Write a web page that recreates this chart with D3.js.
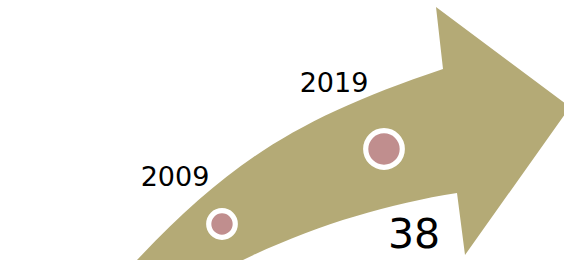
<!DOCTYPE html>
<html>
<head>
<meta charset="utf-8">
<script src="https://cdn.jsdelivr.net/npm/d3@7"></script>
<style>
  html, body { margin: 0; padding: 0; background: #fff; }
  svg { display: block; }
  text { font-family: "DejaVu Sans", sans-serif; fill: #000; }
</style>
</head>
<body>
<svg id="chart" width="564" height="260"></svg>
<script>
// ---- data ----
const years = [2009, 2019];
const yearLabels = ["2009", "2019"];
const values = [20, 38];
const valueLabels = ["", "38"];

// ---- layout (decorative arrow shape, in pixel space) ----
const W = 564, H = 260;
const svg = d3.select("#chart");

// arrow body built with d3.path (smooth bezier edges)
const p = d3.path();
p.moveTo(118, 280);
p.lineTo(137, 260);
p.bezierCurveTo(227, 165.5, 293, 119, 443, 69);   // upper edge
p.lineTo(436, 7);                                  // head top
p.lineTo(570, 107);                                // tip
p.lineTo(465, 255);                                // head bottom
p.lineTo(457, 193);                                // notch
p.bezierCurveTo(387, 204, 313, 226, 243, 260);     // lower edge
p.lineTo(202, 280);
p.closePath();
svg.append("path").attr("d", p.toString()).attr("fill", "#b4aa76");

// scales
const x = d3.scaleLinear().domain([2009, 2019]).range([222, 384]);
const y = d3.scaleLinear().domain([20, 38]).range([224, 149]);
const r = d3.scaleSqrt().domain([0, 38]).range([0, 18.3]);

const labelOffset = [[-47, -38], [-50, -57]];

const g = svg.append("g");
g.selectAll("circle").data(years).join("circle")
  .attr("cx", d => x(d))
  .attr("cy", (d, i) => y(values[i]))
  .attr("r", (d, i) => r(values[i]))
  .attr("fill", "#c08e8e")
  .attr("stroke", "#fff")
  .attr("stroke-width", 5.2);

g.selectAll("text.year").data(years).join("text")
  .attr("class", "year")
  .attr("x", (d, i) => x(d) + labelOffset[i][0])
  .attr("y", (d, i) => y(values[i]) + labelOffset[i][1])
  .attr("text-anchor", "middle")
  .attr("font-size", 27)
  .text((d, i) => yearLabels[i]);

g.selectAll("text.val").data(years).join("text")
  .attr("class", "val")
  .attr("x", (d, i) => x(d) + 30)
  .attr("y", (d, i) => y(values[i]) + 99)
  .attr("text-anchor", "middle")
  .attr("font-size", 41)
  .text((d, i) => valueLabels[i]);
</script>
</body>
</html>
